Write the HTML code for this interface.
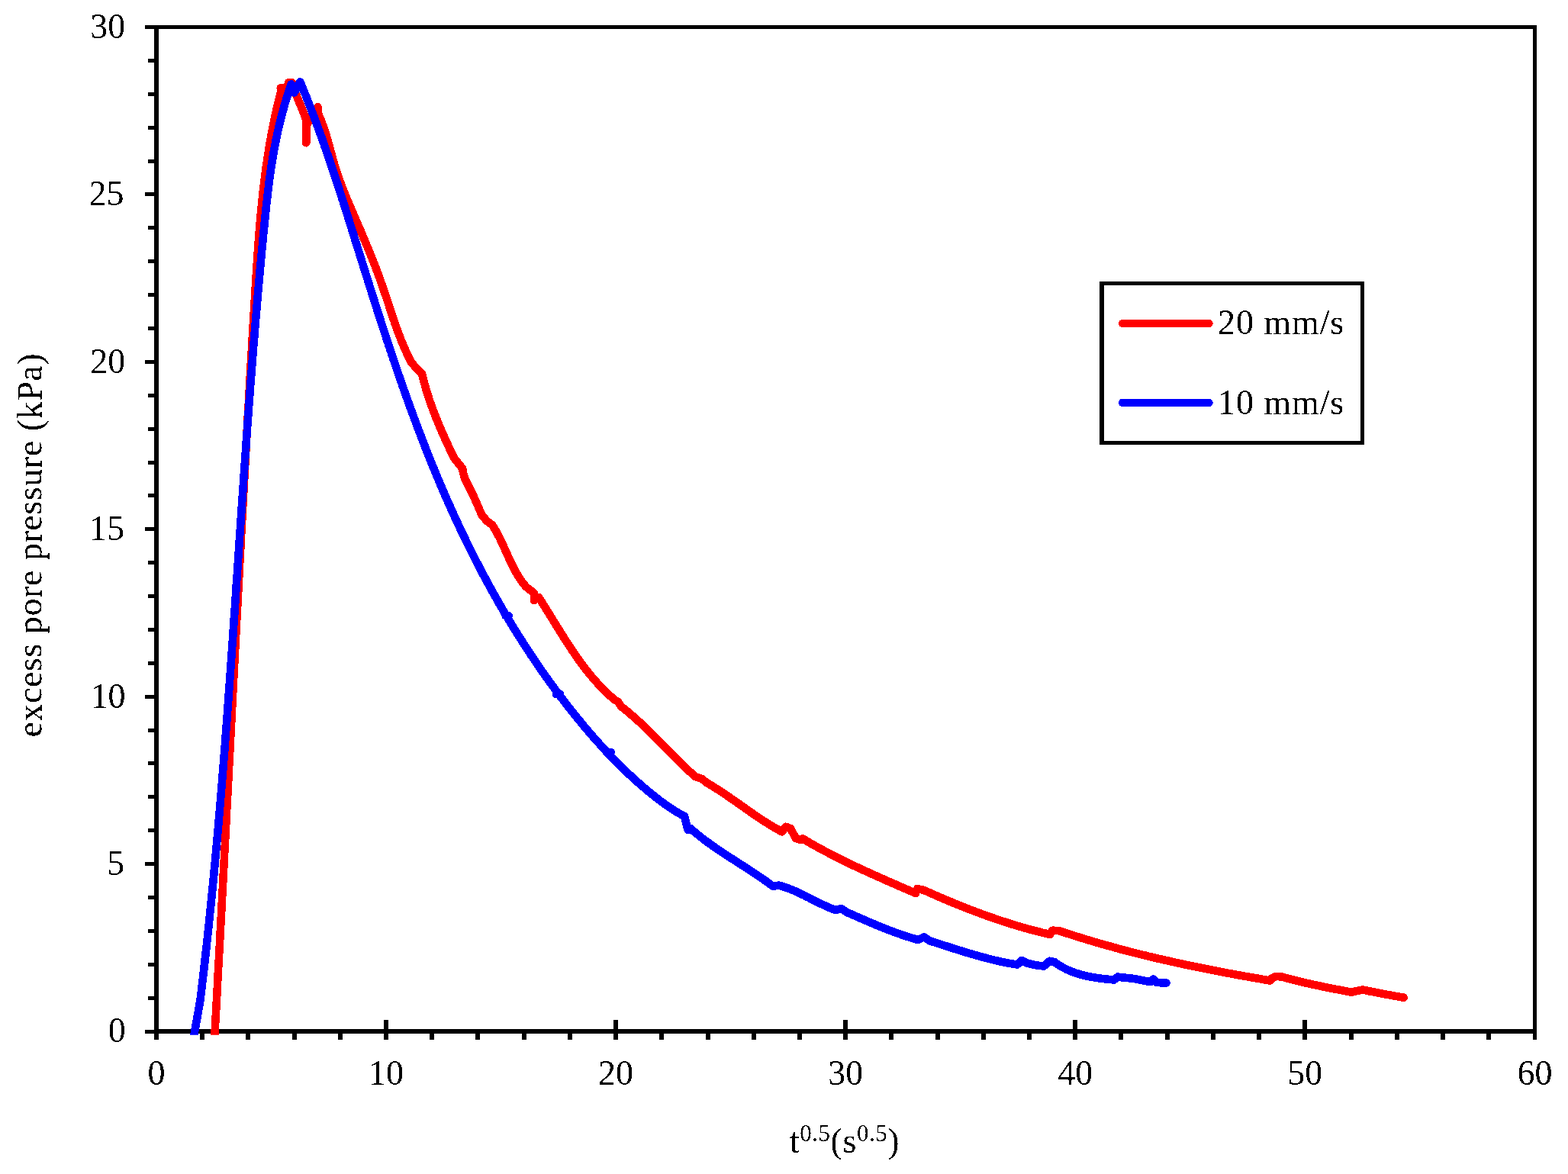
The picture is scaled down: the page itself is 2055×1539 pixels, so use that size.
<!DOCTYPE html>
<html><head><meta charset="utf-8"><style>html,body{margin:0;padding:0;background:#fff;}svg{display:block;}</style></head>
<body>
<svg width="2055" height="1539" viewBox="0 0 2055 1539">
<rect width="100%" height="100%" fill="#fff"/>
<defs><filter id="k" x="-5%" y="-5%" width="110%" height="110%"><feComponentTransfer><feFuncA type="discrete" tableValues="0 1"/></feComponentTransfer></filter><clipPath id="c"><rect x="0" y="0" width="2055" height="1356.7"/></clipPath></defs>
<g fill="#000" shape-rendering="crispEdges">
<rect x="202" y="33" width="1812" height="5"/>
<rect x="202" y="1349" width="1812" height="6"/>
<rect x="202" y="33" width="6" height="1330"/>
<rect x="2009" y="33" width="5" height="1330"/>
<rect x="190" y="1350" width="12" height="5"/>
<rect x="194" y="1306" width="8" height="5"/>
<rect x="194" y="1262" width="8" height="5"/>
<rect x="194" y="1218" width="8" height="5"/>
<rect x="194" y="1174" width="8" height="5"/>
<rect x="190" y="1130" width="12" height="5"/>
<rect x="194" y="1086" width="8" height="5"/>
<rect x="194" y="1042" width="8" height="5"/>
<rect x="194" y="998" width="8" height="5"/>
<rect x="194" y="955" width="8" height="5"/>
<rect x="190" y="911" width="12" height="5"/>
<rect x="194" y="867" width="8" height="5"/>
<rect x="194" y="823" width="8" height="5"/>
<rect x="194" y="779" width="8" height="5"/>
<rect x="194" y="735" width="8" height="5"/>
<rect x="190" y="691" width="12" height="5"/>
<rect x="194" y="647" width="8" height="5"/>
<rect x="194" y="604" width="8" height="5"/>
<rect x="194" y="560" width="8" height="5"/>
<rect x="194" y="516" width="8" height="5"/>
<rect x="190" y="472" width="12" height="5"/>
<rect x="194" y="428" width="8" height="5"/>
<rect x="194" y="384" width="8" height="5"/>
<rect x="194" y="340" width="8" height="5"/>
<rect x="194" y="296" width="8" height="5"/>
<rect x="190" y="252" width="12" height="5"/>
<rect x="194" y="209" width="8" height="5"/>
<rect x="194" y="165" width="8" height="5"/>
<rect x="194" y="121" width="8" height="5"/>
<rect x="194" y="77" width="8" height="5"/>
<rect x="190" y="33" width="12" height="5"/>
<rect x="262" y="1355" width="6" height="8"/>
<rect x="322" y="1355" width="6" height="8"/>
<rect x="383" y="1355" width="6" height="8"/>
<rect x="443" y="1355" width="6" height="8"/>
<rect x="503" y="1337" width="6" height="26"/>
<rect x="563" y="1355" width="6" height="8"/>
<rect x="623" y="1355" width="6" height="8"/>
<rect x="684" y="1355" width="6" height="8"/>
<rect x="744" y="1355" width="6" height="8"/>
<rect x="804" y="1337" width="6" height="26"/>
<rect x="864" y="1355" width="6" height="8"/>
<rect x="925" y="1355" width="6" height="8"/>
<rect x="985" y="1355" width="6" height="8"/>
<rect x="1045" y="1355" width="6" height="8"/>
<rect x="1105" y="1337" width="6" height="26"/>
<rect x="1165" y="1355" width="6" height="8"/>
<rect x="1226" y="1355" width="6" height="8"/>
<rect x="1286" y="1355" width="6" height="8"/>
<rect x="1346" y="1355" width="6" height="8"/>
<rect x="1406" y="1337" width="6" height="26"/>
<rect x="1466" y="1355" width="6" height="8"/>
<rect x="1527" y="1355" width="6" height="8"/>
<rect x="1587" y="1355" width="6" height="8"/>
<rect x="1647" y="1355" width="6" height="8"/>
<rect x="1707" y="1337" width="6" height="26"/>
<rect x="1768" y="1355" width="6" height="8"/>
<rect x="1828" y="1355" width="6" height="8"/>
<rect x="1888" y="1355" width="6" height="8"/>
<rect x="1948" y="1355" width="6" height="8"/>
</g>
<g clip-path="url(#c)" fill="none" stroke-width="10.6" stroke-linejoin="round" stroke-linecap="round" shape-rendering="crispEdges">
<polyline stroke="#f00" points="280.6,1370.0 280.8,1367.0 280.9,1364.0 281.1,1361.0 281.3,1358.1 281.4,1355.1 281.6,1352.1 281.8,1349.1 281.9,1346.1 282.1,1343.1 282.3,1340.1 282.4,1337.2 282.6,1334.2 282.8,1331.2 282.9,1328.2 283.1,1325.2 283.3,1322.2 283.4,1319.2 283.6,1316.2 283.8,1313.2 283.9,1310.2 284.1,1307.3 284.3,1304.3 284.4,1301.3 284.6,1298.3 284.8,1295.3 284.9,1292.3 285.1,1289.3 285.2,1286.3 285.4,1283.3 285.6,1280.3 285.7,1277.3 285.9,1274.3 286.1,1271.4 286.2,1268.4 286.4,1265.4 286.6,1262.4 286.7,1259.4 286.9,1256.4 287.0,1253.4 287.2,1250.4 287.4,1247.4 287.5,1244.4 287.7,1241.4 287.9,1238.4 288.0,1235.4 288.2,1232.4 288.3,1229.4 288.5,1226.4 288.7,1223.4 288.8,1220.4 289.0,1217.4 289.1,1214.4 289.3,1211.4 289.5,1208.4 289.6,1205.4 289.8,1202.4 289.9,1199.4 290.1,1196.4 290.3,1193.4 290.4,1190.4 290.6,1187.4 290.7,1184.4 290.9,1181.4 291.1,1178.4 291.2,1175.4 291.4,1172.4 291.5,1169.4 291.7,1166.4 291.9,1163.4 292.0,1160.4 292.2,1157.4 292.3,1154.4 292.5,1151.4 292.7,1148.4 292.8,1145.4 293.0,1142.4 293.1,1139.4 293.3,1136.4 293.5,1133.4 293.6,1130.4 293.8,1127.4 293.9,1124.4 294.1,1121.4 294.2,1118.4 294.4,1115.4 294.6,1112.4 294.7,1109.4 294.9,1106.4 295.0,1103.4 295.2,1100.4 295.4,1097.4 295.5,1094.4 295.7,1091.4 295.8,1088.4 296.0,1085.4 296.1,1082.4 296.3,1079.4 296.5,1076.4 296.6,1073.3 296.8,1070.3 296.9,1067.3 297.1,1064.3 297.2,1061.3 297.4,1058.3 297.6,1055.3 297.7,1052.3 297.9,1049.3 298.0,1046.3 298.2,1043.3 298.3,1040.3 298.5,1037.3 298.7,1034.3 298.8,1031.3 299.0,1028.3 299.1,1025.2 299.3,1022.2 299.4,1019.2 299.6,1016.2 299.8,1013.2 299.9,1010.2 300.1,1007.2 300.2,1004.2 300.4,1001.2 300.5,998.2 300.7,995.2 300.9,992.2 301.0,989.2 301.2,986.1 301.3,983.1 301.5,980.1 301.6,977.1 301.8,974.1 302.0,971.1 302.1,968.1 302.3,965.1 302.4,962.1 302.6,959.1 302.7,956.1 302.9,953.1 303.0,950.0 303.2,947.0 303.4,944.0 303.5,941.0 303.7,938.0 303.8,935.0 304.0,932.0 304.1,929.0 304.3,926.0 304.5,923.0 304.6,920.0 304.8,916.9 304.9,913.9 305.1,910.9 305.2,907.9 305.4,904.9 305.6,901.9 305.7,898.9 305.9,895.9 306.0,892.9 306.2,889.9 306.3,886.8 306.5,883.8 306.7,880.8 306.8,877.8 307.0,874.8 307.1,871.8 307.3,868.8 307.5,865.8 307.6,862.8 307.8,859.8 307.9,856.8 308.1,853.7 308.2,850.7 308.4,847.7 308.6,844.7 308.7,841.7 308.9,838.7 309.0,835.7 309.2,832.7 309.3,829.7 309.5,826.7 309.7,823.6 309.8,820.6 310.0,817.6 310.1,814.6 310.3,811.6 310.5,808.6 310.6,805.6 310.8,802.6 310.9,799.6 311.1,796.6 311.3,793.6 311.4,790.5 311.6,787.5 311.7,784.5 311.9,781.5 312.1,778.5 312.2,775.5 312.4,772.5 312.5,769.5 312.7,766.5 312.9,763.5 313.0,760.5 313.2,757.4 313.3,754.4 313.5,751.4 313.7,748.4 313.8,745.4 314.0,742.4 314.1,739.4 314.3,736.4 314.5,733.4 314.6,730.4 314.8,727.4 314.9,724.4 315.1,721.4 315.3,718.3 315.4,715.3 315.6,712.3 315.8,709.3 315.9,706.3 316.1,703.3 316.2,700.3 316.4,697.3 316.6,694.3 316.7,691.3 316.9,688.3 317.1,685.3 317.2,682.3 317.4,679.3 317.5,676.3 317.7,673.2 317.9,670.2 318.0,667.2 318.2,664.2 318.4,661.2 318.5,658.2 318.7,655.2 318.9,652.2 319.0,649.2 319.2,646.2 319.4,643.2 319.5,640.2 319.7,637.2 319.9,634.2 320.0,631.2 320.2,628.2 320.3,625.2 320.5,622.2 320.7,619.2 320.8,616.2 321.0,613.2 321.2,610.1 321.3,607.1 321.5,604.1 321.7,601.1 321.9,598.1 322.0,595.1 322.2,592.1 322.4,589.1 322.5,586.1 322.7,583.1 322.9,580.1 323.0,577.1 323.2,574.1 323.4,571.1 323.5,568.1 323.7,565.1 323.9,562.1 324.0,559.1 324.2,556.1 324.4,553.1 324.6,550.1 324.7,547.1 324.9,544.1 325.1,541.1 325.2,538.1 325.4,535.1 325.6,532.1 325.8,529.1 325.9,526.1 326.1,523.1 326.3,520.1 326.4,517.1 326.6,514.1 326.8,511.1 327.0,508.1 327.1,505.1 327.3,502.1 327.5,499.2 327.7,496.2 327.8,493.2 328.0,490.2 328.2,487.2 328.4,484.2 328.5,481.2 328.7,478.2 328.9,475.2 329.1,472.2 329.2,469.2 329.4,466.2 329.6,463.2 329.8,460.2 329.9,457.2 330.1,454.2 330.3,451.2 330.5,448.3 330.6,445.3 330.8,442.3 331.0,439.3 331.2,436.3 331.4,433.3 331.5,430.3 331.7,427.3 331.9,424.3 332.1,421.3 332.3,418.3 332.4,415.4 332.6,412.4 332.8,409.4 333.0,406.4 333.2,403.4 333.3,400.4 333.5,397.4 333.7,394.4 333.9,391.4 334.1,388.5 334.3,385.5 334.4,382.5 334.6,379.5 334.8,376.5 335.0,373.5 335.2,370.5 335.4,367.6 335.5,364.6 335.7,361.6 335.9,358.6 336.1,355.6 336.3,352.6 336.5,349.7 336.7,346.7 336.9,343.7 337.1,340.7 337.3,337.7 337.5,334.7 337.7,331.8 337.9,328.8 338.1,325.8 338.3,322.8 338.5,319.8 338.8,316.9 339.0,313.9 339.2,310.9 339.4,307.9 339.7,304.9 339.9,302.0 340.2,299.0 340.4,296.0 340.7,293.0 340.9,290.1 341.2,287.1 341.4,284.1 341.7,281.1 342.0,278.1 342.3,275.2 342.6,272.2 342.9,269.2 343.1,266.2 343.5,263.3 343.8,260.3 344.1,257.3 344.4,254.4 344.7,251.4 345.1,248.4 345.4,245.4 345.8,242.5 346.1,239.5 346.5,236.5 346.9,233.6 347.2,230.6 347.6,227.6 348.0,224.7 348.4,221.7 348.8,218.7 349.3,215.7 349.7,212.8 350.1,209.8 350.6,206.8 351.0,203.9 351.5,200.9 352.0,197.9 352.4,195.0 352.9,192.0 353.4,189.1 353.9,186.1 354.5,183.1 355.0,180.2 355.5,177.2 356.1,174.2 356.6,171.3 357.2,168.3 357.8,165.4 358.4,162.4 359.0,159.4 359.6,156.5 360.2,153.5 360.9,150.6 361.5,147.6 362.2,144.6 362.9,141.7 363.6,138.7 364.3,135.8 365.0,132.8 365.7,129.9 366.5,126.9 367.2,123.9 368.0,121.0 367.8,115.4 372.5,115.4 375.3,117.5 378.1,108.4 382.7,108.4 383.6,111.4 384.6,114.4 385.6,117.3 386.7,120.3 387.8,123.2 389.0,126.1 390.1,129.0 391.3,131.8 392.5,134.7 393.7,137.6 394.9,140.5 396.1,143.4 397.2,146.3 398.3,149.2 399.4,152.1 400.4,155.0 401.3,158.0 401.3,187.3 401.3,165.0 416.5,140.0 417.0,149.0 418.3,151.9 419.5,154.7 420.7,157.6 421.8,160.4 422.8,163.3 423.9,166.1 424.8,169.0 425.8,171.8 426.7,174.7 427.6,177.5 428.4,180.3 429.3,183.2 430.1,186.0 430.9,188.8 431.7,191.7 432.5,194.5 433.2,197.3 434.0,200.2 434.8,203.0 435.5,205.8 436.3,208.6 437.1,211.5 437.9,214.3 438.7,217.1 439.6,219.9 440.5,222.7 441.4,225.6 442.3,228.4 443.2,231.2 444.2,234.0 445.2,236.8 446.3,239.6 447.3,242.4 448.4,245.2 449.5,248.0 450.6,250.9 451.7,253.7 452.9,256.5 454.0,259.3 455.2,262.1 456.4,264.9 457.6,267.7 458.8,270.5 460.0,273.3 461.2,276.1 462.4,278.9 463.6,281.7 464.8,284.5 466.0,287.3 467.2,290.1 468.4,292.9 469.6,295.7 470.9,298.4 472.1,301.2 473.2,304.0 474.4,306.8 475.6,309.6 476.8,312.4 478.0,315.2 479.1,318.0 480.3,320.8 481.5,323.6 482.6,326.4 483.8,329.2 484.9,332.0 486.0,334.8 487.1,337.6 488.3,340.3 489.4,343.1 490.4,345.9 491.5,348.7 492.6,351.5 493.7,354.3 494.7,357.1 495.8,359.9 496.8,362.7 497.8,365.5 498.8,368.3 499.8,371.1 500.8,373.9 501.8,376.7 502.7,379.5 503.7,382.3 504.6,385.1 505.6,387.8 506.5,390.6 507.4,393.4 508.4,396.2 509.3,399.0 510.2,401.8 511.1,404.6 512.0,407.4 513.0,410.3 513.9,413.1 514.8,415.9 515.8,418.7 516.8,421.5 517.7,424.3 518.7,427.1 519.7,429.9 520.7,432.7 521.8,435.5 522.8,438.3 523.9,441.1 525.0,444.0 526.1,446.8 527.3,449.6 528.5,452.4 529.7,455.2 530.9,458.0 532.2,460.9 533.5,463.7 534.8,466.5 536.2,469.3 537.6,472.2 539.0,475.0 546.0,483.0 553.0,490.0 553.7,492.9 554.4,495.9 555.2,498.8 556.0,501.7 556.8,504.7 557.6,507.6 558.4,510.5 559.3,513.4 560.2,516.2 561.1,519.1 562.1,522.0 563.0,524.9 564.0,527.7 565.0,530.6 566.1,533.4 567.1,536.2 568.2,539.1 569.2,541.9 570.3,544.7 571.4,547.5 572.6,550.4 573.7,553.2 574.9,555.9 576.0,558.7 577.2,561.5 578.4,564.3 579.6,567.1 580.9,569.8 582.1,572.6 583.3,575.4 584.6,578.1 585.9,580.9 587.1,583.6 588.4,586.4 589.7,589.1 591.0,591.8 592.3,594.6 593.6,597.3 594.9,600.0 602.0,609.0 606.0,614.0 606.3,615.3 606.5,616.7 606.8,618.0 607.0,619.3 607.3,620.6 607.6,622.0 608.0,623.4 608.5,625.0 609.5,627.7 610.8,630.6 612.3,633.7 613.9,636.9 615.6,640.2 617.3,643.5 618.9,646.8 620.4,650.0 621.8,653.1 623.2,656.2 624.6,659.4 626.0,662.5 627.3,665.6 628.7,668.7 630.0,671.9 631.4,675.0 638.0,683.0 645.0,688.0 646.6,690.5 648.2,693.1 649.7,695.6 651.2,698.3 652.6,700.9 654.0,703.6 655.3,706.2 656.6,708.9 657.9,711.7 659.2,714.4 660.4,717.1 661.7,719.9 662.9,722.6 664.1,725.4 665.4,728.1 666.6,730.9 667.9,733.6 669.1,736.3 670.4,739.0 671.7,741.7 673.1,744.4 674.5,747.1 676.0,749.7 677.4,752.3 679.0,754.9 680.6,757.4 682.3,759.9 684.0,762.4 685.8,764.8 687.7,767.2 689.7,769.5 700.0,777.5 700.0,787.0 706.0,783.0 707.6,785.5 709.3,788.1 710.9,790.6 712.5,793.2 714.1,795.7 715.7,798.3 717.3,800.9 718.9,803.4 720.5,806.0 722.1,808.6 723.7,811.2 725.3,813.8 726.9,816.4 728.5,819.0 730.1,821.6 731.7,824.1 733.3,826.7 734.9,829.3 736.6,831.9 738.2,834.5 739.8,837.1 741.5,839.6 743.1,842.2 744.8,844.7 746.4,847.3 748.1,849.8 749.8,852.4 751.5,854.9 753.2,857.4 754.9,859.9 756.7,862.4 758.4,864.9 760.2,867.3 762.0,869.8 763.8,872.2 765.7,874.7 767.5,877.1 769.4,879.5 771.3,881.8 773.2,884.2 775.1,886.5 777.1,888.9 779.1,891.2 781.1,893.4 783.1,895.7 785.2,897.9 787.2,900.2 789.4,902.3 791.5,904.5 793.7,906.7 795.9,908.8 798.1,910.9 800.4,912.9 802.7,915.0 805.0,917.0 810.0,920.0 814.0,926.0 816.4,927.9 818.8,929.8 821.2,931.7 823.5,933.6 825.8,935.6 828.1,937.6 830.4,939.6 832.7,941.6 834.9,943.7 837.2,945.7 839.4,947.8 841.6,949.9 843.8,952.0 846.0,954.1 848.2,956.2 850.4,958.3 852.5,960.4 854.7,962.6 856.8,964.7 859.0,966.9 861.1,969.1 863.3,971.2 865.4,973.4 867.5,975.6 869.7,977.7 871.8,979.9 873.9,982.1 876.1,984.3 878.2,986.4 880.3,988.6 882.5,990.8 884.6,992.9 886.8,995.1 889.0,997.2 891.1,999.3 893.3,1001.5 895.5,1003.6 897.7,1005.7 899.9,1007.8 902.2,1009.8 904.4,1011.9 906.6,1014.0 908.9,1016.0 911.2,1018.0 920.0,1021.0 926.0,1026.0 928.6,1027.5 931.2,1029.0 933.8,1030.6 936.4,1032.2 938.9,1033.8 941.5,1035.4 944.0,1037.1 946.5,1038.7 949.0,1040.4 951.5,1042.1 954.0,1043.8 956.5,1045.5 959.0,1047.2 961.5,1048.9 964.0,1050.7 966.4,1052.4 968.9,1054.1 971.4,1055.9 973.8,1057.6 976.3,1059.4 978.8,1061.1 981.3,1062.8 983.7,1064.6 986.2,1066.3 988.7,1068.0 991.2,1069.7 993.7,1071.4 996.2,1073.1 998.8,1074.8 1001.3,1076.4 1003.8,1078.0 1006.4,1079.7 1009.0,1081.2 1011.5,1082.8 1014.1,1084.4 1016.8,1085.9 1019.4,1087.4 1022.0,1088.9 1024.7,1090.3 1029.9,1083.8 1036.0,1086.0 1043.0,1099.0 1049.4,1101.0 1052.0,1099.4 1054.6,1100.9 1057.2,1102.5 1059.8,1104.0 1062.4,1105.5 1065.0,1107.0 1067.6,1108.4 1070.2,1109.9 1072.8,1111.3 1075.5,1112.8 1078.1,1114.2 1080.8,1115.6 1083.4,1117.0 1086.1,1118.4 1088.7,1119.8 1091.4,1121.2 1094.1,1122.6 1096.7,1123.9 1099.4,1125.3 1102.1,1126.6 1104.8,1127.9 1107.5,1129.3 1110.2,1130.6 1112.9,1131.9 1115.6,1133.2 1118.3,1134.5 1121.0,1135.8 1123.7,1137.0 1126.4,1138.3 1129.2,1139.6 1131.9,1140.8 1134.6,1142.1 1137.3,1143.3 1140.1,1144.6 1142.8,1145.8 1145.6,1147.0 1148.3,1148.3 1151.0,1149.5 1153.8,1150.7 1156.5,1151.9 1159.3,1153.2 1162.0,1154.4 1164.8,1155.6 1167.5,1156.8 1170.3,1158.0 1173.0,1159.2 1175.8,1160.4 1178.5,1161.6 1181.3,1162.8 1184.0,1164.0 1186.8,1165.2 1189.5,1166.4 1192.3,1167.6 1195.0,1168.8 1200.0,1171.0 1202.2,1165.0 1211.0,1167.0 1213.7,1168.2 1216.5,1169.5 1219.2,1170.7 1222.0,1171.9 1224.8,1173.1 1227.5,1174.4 1230.3,1175.6 1233.1,1176.8 1235.8,1177.9 1238.6,1179.1 1241.4,1180.3 1244.2,1181.5 1247.0,1182.6 1249.8,1183.8 1252.6,1184.9 1255.4,1186.1 1258.2,1187.2 1261.0,1188.3 1263.8,1189.4 1266.6,1190.6 1269.4,1191.6 1272.2,1192.7 1275.1,1193.8 1277.9,1194.9 1280.7,1195.9 1283.6,1197.0 1286.4,1198.0 1289.2,1199.1 1292.1,1200.1 1294.9,1201.1 1297.8,1202.1 1300.7,1203.1 1303.5,1204.1 1306.4,1205.1 1309.2,1206.0 1312.1,1207.0 1315.0,1207.9 1317.9,1208.9 1320.7,1209.8 1323.6,1210.7 1326.5,1211.6 1329.4,1212.5 1332.3,1213.4 1335.2,1214.2 1338.1,1215.1 1341.0,1215.9 1343.9,1216.7 1346.8,1217.6 1349.7,1218.4 1352.6,1219.1 1355.5,1219.9 1358.4,1220.7 1361.4,1221.4 1364.3,1222.2 1367.2,1222.9 1370.1,1223.6 1373.1,1224.3 1376.0,1225.0 1379.0,1219.7 1387.7,1220.0 1390.6,1221.0 1393.4,1221.9 1396.3,1222.9 1399.2,1223.8 1402.1,1224.8 1404.9,1225.7 1407.8,1226.6 1410.7,1227.5 1413.6,1228.4 1416.5,1229.3 1419.4,1230.2 1422.3,1231.1 1425.2,1232.0 1428.1,1232.9 1431.0,1233.7 1433.9,1234.6 1436.8,1235.5 1439.7,1236.3 1442.6,1237.1 1445.5,1238.0 1448.4,1238.8 1451.3,1239.6 1454.3,1240.4 1457.2,1241.2 1460.1,1242.0 1463.0,1242.8 1465.9,1243.6 1468.9,1244.4 1471.8,1245.2 1474.7,1246.0 1477.7,1246.7 1480.6,1247.5 1483.5,1248.2 1486.5,1249.0 1489.4,1249.7 1492.3,1250.5 1495.3,1251.2 1498.2,1251.9 1501.2,1252.6 1504.1,1253.4 1507.1,1254.1 1510.0,1254.8 1513.0,1255.5 1515.9,1256.2 1518.9,1256.8 1521.8,1257.5 1524.8,1258.2 1527.7,1258.9 1530.7,1259.5 1533.7,1260.2 1536.6,1260.9 1539.6,1261.5 1542.5,1262.2 1545.5,1262.8 1548.5,1263.5 1551.4,1264.1 1554.4,1264.7 1557.4,1265.4 1560.3,1266.0 1563.3,1266.6 1566.3,1267.2 1569.3,1267.8 1572.2,1268.4 1575.2,1269.0 1578.2,1269.6 1581.2,1270.2 1584.1,1270.8 1587.1,1271.4 1590.1,1272.0 1593.1,1272.6 1596.0,1273.1 1599.0,1273.7 1602.0,1274.3 1605.0,1274.8 1607.9,1275.4 1610.9,1276.0 1613.9,1276.5 1616.9,1277.1 1619.9,1277.6 1622.8,1278.2 1625.8,1278.7 1628.8,1279.2 1631.8,1279.8 1634.8,1280.3 1637.8,1280.8 1640.7,1281.4 1643.7,1281.9 1646.7,1282.4 1649.7,1282.9 1652.7,1283.5 1655.7,1284.0 1658.6,1284.5 1661.6,1285.0 1664.6,1285.5 1666.0,1283.0 1672.0,1279.9 1680.0,1280.5 1682.9,1281.3 1685.8,1282.1 1688.7,1282.9 1691.6,1283.6 1694.5,1284.4 1697.5,1285.2 1700.6,1286.0 1703.9,1286.8 1708.2,1287.8 1712.9,1288.9 1717.7,1289.9 1722.6,1291.0 1727.6,1292.0 1732.5,1293.1 1737.2,1294.1 1741.8,1295.0 1745.6,1295.8 1749.4,1296.5 1753.0,1297.2 1756.6,1297.9 1760.2,1298.6 1763.8,1299.3 1767.4,1300.0 1771.0,1300.7 1778.0,1299.0 1786.1,1297.6 1789.3,1298.2 1792.4,1298.9 1795.5,1299.5 1798.7,1300.1 1801.8,1300.7 1805.0,1301.4 1808.2,1302.0 1811.4,1302.6 1814.9,1303.2 1818.4,1303.9 1821.9,1304.5 1825.4,1305.2 1829.0,1305.8 1832.6,1306.4 1836.2,1307.1 1839.7,1307.7"/>
<polyline stroke="#00f" points="252.2,1370.0 252.5,1368.3 252.7,1366.7 253.0,1365.0 253.3,1363.4 253.5,1361.7 253.8,1360.0 254.2,1358.1 254.5,1356.0 255.2,1352.1 256.0,1347.6 256.8,1342.7 257.8,1337.6 258.7,1332.6 259.5,1327.8 260.3,1323.5 260.9,1320.0 261.2,1318.5 261.4,1317.1 261.6,1315.8 261.8,1314.6 262.0,1313.5 262.2,1312.4 262.4,1311.2 262.6,1310.0 263.0,1307.0 263.3,1304.1 263.7,1301.1 264.0,1298.2 264.4,1295.2 264.7,1292.3 265.1,1289.3 265.4,1286.3 265.8,1283.4 266.1,1280.4 266.5,1277.5 266.8,1274.5 267.2,1271.5 267.5,1268.6 267.8,1265.6 268.2,1262.6 268.5,1259.7 268.8,1256.7 269.2,1253.7 269.5,1250.8 269.8,1247.8 270.2,1244.8 270.5,1241.9 270.8,1238.9 271.1,1235.9 271.5,1233.0 271.8,1230.0 272.1,1227.0 272.4,1224.1 272.7,1221.1 273.1,1218.1 273.4,1215.1 273.7,1212.2 274.0,1209.2 274.3,1206.2 274.6,1203.2 274.9,1200.3 275.2,1197.3 275.5,1194.3 275.8,1191.3 276.1,1188.4 276.4,1185.4 276.7,1182.4 277.0,1179.4 277.3,1176.4 277.6,1173.5 277.9,1170.5 278.2,1167.5 278.5,1164.5 278.8,1161.5 279.1,1158.6 279.4,1155.6 279.7,1152.6 280.0,1149.6 280.3,1146.6 280.5,1143.6 280.8,1140.7 281.1,1137.7 281.4,1134.7 281.7,1131.7 281.9,1128.7 282.2,1125.7 282.5,1122.7 282.8,1119.7 283.0,1116.8 283.3,1113.8 283.6,1110.8 283.9,1107.8 284.1,1104.8 284.4,1101.8 284.7,1098.8 284.9,1095.8 285.2,1092.8 285.5,1089.8 285.7,1086.9 286.0,1083.9 286.3,1080.9 286.5,1077.9 286.8,1074.9 287.0,1071.9 287.3,1068.9 287.6,1065.9 287.8,1062.9 288.1,1059.9 288.3,1056.9 288.6,1053.9 288.8,1050.9 289.1,1047.9 289.3,1044.9 289.6,1041.9 289.8,1038.9 290.1,1035.9 290.3,1032.9 290.6,1029.9 290.8,1026.9 291.1,1023.9 291.3,1020.9 291.5,1017.9 291.8,1014.9 292.0,1011.9 292.3,1008.9 292.5,1005.9 292.7,1002.9 293.0,999.9 293.2,996.9 293.5,993.9 293.7,990.9 293.9,987.9 294.2,984.9 294.4,981.9 294.6,978.9 294.9,975.9 295.1,972.9 295.3,969.9 295.6,966.9 295.8,963.9 296.0,960.9 296.2,957.9 296.5,954.9 296.7,951.9 296.9,948.9 297.2,945.9 297.4,942.9 297.6,939.9 297.8,936.9 298.1,933.9 298.3,930.8 298.5,927.8 298.7,924.8 298.9,921.8 299.2,918.8 299.4,915.8 299.6,912.8 299.8,909.8 300.0,906.8 300.3,903.8 300.5,900.8 300.7,897.8 300.9,894.8 301.1,891.8 301.4,888.7 301.6,885.7 301.8,882.7 302.0,879.7 302.2,876.7 302.4,873.7 302.6,870.7 302.9,867.7 303.1,864.7 303.3,861.7 303.5,858.7 303.7,855.6 303.9,852.6 304.1,849.6 304.3,846.6 304.6,843.6 304.8,840.6 305.0,837.6 305.2,834.6 305.4,831.6 305.6,828.6 305.8,825.5 306.0,822.5 306.2,819.5 306.4,816.5 306.6,813.5 306.8,810.5 307.1,807.5 307.3,804.5 307.5,801.5 307.7,798.5 307.9,795.4 308.1,792.4 308.3,789.4 308.5,786.4 308.7,783.4 308.9,780.4 309.1,777.4 309.3,774.4 309.5,771.4 309.7,768.4 309.9,765.3 310.1,762.3 310.4,759.3 310.6,756.3 310.8,753.3 311.0,750.3 311.2,747.3 311.4,744.3 311.6,741.3 311.8,738.3 312.0,735.2 312.2,732.2 312.4,729.2 312.6,726.2 312.8,723.2 313.0,720.2 313.2,717.2 313.4,714.2 313.6,711.2 313.8,708.2 314.0,705.2 314.2,702.1 314.4,699.1 314.7,696.1 314.9,693.1 315.1,690.1 315.3,687.1 315.5,684.1 315.7,681.1 315.9,678.1 316.1,675.1 316.3,672.1 316.5,669.1 316.7,666.0 316.9,663.0 317.1,660.0 317.3,657.0 317.5,654.0 317.7,651.0 318.0,648.0 318.2,645.0 318.4,642.0 318.6,639.0 318.8,636.0 319.0,633.0 319.2,630.0 319.4,627.0 319.6,624.0 319.8,621.0 320.0,618.0 320.3,615.0 320.5,611.9 320.7,608.9 320.9,605.9 321.1,602.9 321.3,599.9 321.5,596.9 321.7,593.9 322.0,590.9 322.2,587.9 322.4,584.9 322.6,581.9 322.8,578.9 323.0,575.9 323.2,572.9 323.5,569.9 323.7,566.9 323.9,563.9 324.1,560.9 324.3,557.9 324.5,554.9 324.8,551.9 325.0,548.9 325.2,545.9 325.4,542.9 325.6,539.9 325.9,536.9 326.1,533.9 326.3,530.9 326.5,527.9 326.8,524.9 327.0,521.9 327.2,519.0 327.4,516.0 327.7,513.0 327.9,510.0 328.1,507.0 328.3,504.0 328.6,501.0 328.8,498.0 329.0,495.0 329.3,492.0 329.5,489.0 329.7,486.0 330.0,483.0 330.2,480.0 330.4,477.1 330.7,474.1 330.9,471.1 331.1,468.1 331.4,465.1 331.6,462.1 331.9,459.1 332.1,456.1 332.3,453.1 332.6,450.2 332.8,447.2 333.1,444.2 333.3,441.2 333.5,438.2 333.8,435.2 334.0,432.2 334.3,429.3 334.5,426.3 334.8,423.3 335.0,420.3 335.3,417.3 335.5,414.4 335.8,411.4 336.0,408.4 336.3,405.4 336.5,402.4 336.8,399.4 337.1,396.5 337.3,393.5 337.6,390.5 337.8,387.5 338.1,384.6 338.3,381.6 338.6,378.6 338.9,375.6 339.1,372.7 339.4,369.7 339.7,366.7 339.9,363.7 340.2,360.8 340.5,357.8 340.7,354.8 341.0,351.8 341.3,348.9 341.6,345.9 341.8,342.9 342.1,340.0 342.4,337.0 342.7,334.0 342.9,331.1 343.2,328.1 343.5,325.1 343.8,322.2 344.1,319.2 344.4,316.2 344.6,313.3 344.9,310.3 345.2,307.3 345.5,304.4 345.8,301.4 346.1,298.5 346.4,295.5 346.7,292.5 347.0,289.6 347.3,286.6 347.6,283.7 347.9,280.7 348.2,277.8 348.5,274.8 348.8,271.8 349.1,268.9 349.5,265.9 349.8,263.0 350.1,260.0 350.5,257.1 350.8,254.1 351.2,251.2 351.5,248.2 351.9,245.3 352.3,242.3 352.6,239.4 353.0,236.4 353.4,233.5 353.8,230.5 354.2,227.6 354.7,224.7 355.1,221.7 355.5,218.8 356.0,215.8 356.5,212.9 356.9,209.9 357.4,207.0 357.9,204.1 358.4,201.1 358.9,198.2 359.5,195.2 360.0,192.3 360.6,189.4 361.2,186.4 361.7,183.5 362.3,180.6 363.0,177.6 363.6,174.7 364.2,171.8 364.9,168.8 365.6,165.9 366.3,163.0 367.0,160.1 367.7,157.1 368.4,154.2 369.2,151.3 370.0,148.3 370.8,145.4 371.6,142.5 372.4,139.6 373.2,136.7 374.1,133.7 375.0,130.8 375.9,127.9 376.8,125.0 377.8,122.1 378.8,119.1 379.7,116.2 380.8,113.3 381.8,110.4 385.5,121.5 393.3,107.3 394.5,110.1 395.6,112.8 396.8,115.6 397.9,118.4 399.0,121.2 400.2,123.9 401.3,126.7 402.4,129.5 403.5,132.3 404.6,135.1 405.7,137.9 406.8,140.7 407.8,143.5 408.9,146.3 410.0,149.0 411.0,151.8 412.1,154.6 413.1,157.4 414.2,160.3 415.2,163.1 416.3,165.9 417.3,168.7 418.3,171.5 419.3,174.3 420.3,177.1 421.4,179.9 422.4,182.7 423.4,185.6 424.4,188.4 425.3,191.2 426.3,194.0 427.3,196.8 428.3,199.7 429.3,202.5 430.2,205.3 431.2,208.1 432.2,211.0 433.1,213.8 434.1,216.6 435.0,219.5 436.0,222.3 436.9,225.1 437.9,228.0 438.8,230.8 439.7,233.7 440.7,236.5 441.6,239.3 442.5,242.2 443.5,245.0 444.4,247.9 445.3,250.7 446.2,253.6 447.1,256.4 448.0,259.3 449.0,262.1 449.9,264.9 450.8,267.8 451.7,270.7 452.6,273.5 453.5,276.4 454.4,279.2 455.3,282.1 456.2,284.9 457.1,287.8 458.0,290.6 458.9,293.5 459.8,296.3 460.7,299.2 461.6,302.1 462.5,304.9 463.4,307.8 464.3,310.6 465.1,313.5 466.0,316.4 466.9,319.2 467.8,322.1 468.7,324.9 469.6,327.8 470.5,330.7 471.4,333.5 472.3,336.4 473.2,339.2 474.1,342.1 475.0,345.0 475.9,347.8 476.8,350.7 477.7,353.6 478.6,356.4 479.5,359.3 480.4,362.2 481.3,365.0 482.2,367.9 483.1,370.7 484.0,373.6 484.9,376.5 485.8,379.3 486.7,382.2 487.6,385.1 488.5,387.9 489.4,390.8 490.3,393.6 491.2,396.5 492.2,399.4 493.1,402.2 494.0,405.1 494.9,408.0 495.8,410.8 496.7,413.7 497.7,416.5 498.6,419.4 499.5,422.3 500.4,425.1 501.4,428.0 502.3,430.8 503.2,433.7 504.2,436.5 505.1,439.4 506.0,442.3 507.0,445.1 507.9,448.0 508.9,450.8 509.8,453.7 510.8,456.5 511.7,459.4 512.7,462.2 513.6,465.1 514.6,467.9 515.5,470.8 516.5,473.6 517.5,476.5 518.4,479.3 519.4,482.2 520.4,485.0 521.3,487.8 522.3,490.7 523.3,493.5 524.3,496.4 525.3,499.2 526.3,502.0 527.2,504.9 528.2,507.7 529.2,510.5 530.2,513.4 531.2,516.2 532.2,519.0 533.2,521.9 534.3,524.7 535.3,527.5 536.3,530.3 537.3,533.2 538.3,536.0 539.4,538.8 540.4,541.6 541.4,544.4 542.5,547.3 543.5,550.1 544.6,552.9 545.6,555.7 546.7,558.5 547.7,561.3 548.8,564.1 549.8,566.9 550.9,569.7 552.0,572.5 553.1,575.3 554.1,578.1 555.2,580.9 556.3,583.7 557.4,586.5 558.5,589.3 559.6,592.1 560.7,594.9 561.8,597.7 562.9,600.5 564.0,603.2 565.2,606.0 566.3,608.8 567.4,611.6 568.6,614.4 569.7,617.1 570.8,619.9 572.0,622.7 573.1,625.4 574.3,628.2 575.5,631.0 576.6,633.7 577.8,636.5 579.0,639.2 580.2,642.0 581.3,644.7 582.5,647.5 583.7,650.2 584.9,653.0 586.1,655.7 587.3,658.4 588.6,661.2 589.8,663.9 591.0,666.6 592.2,669.4 593.5,672.1 594.7,674.8 596.0,677.6 597.2,680.3 598.5,683.0 599.7,685.7 601.0,688.4 602.3,691.1 603.5,693.8 604.8,696.5 606.1,699.2 607.4,701.9 608.7,704.6 610.0,707.3 611.3,710.0 612.6,712.7 613.9,715.4 615.3,718.1 616.6,720.7 617.9,723.4 619.3,726.1 620.6,728.8 622.0,731.4 623.3,734.1 624.7,736.8 626.1,739.4 627.5,742.1 628.8,744.7 630.2,747.4 631.6,750.0 633.0,752.7 634.4,755.3 635.8,757.9 637.2,760.6 638.7,763.2 640.1,765.8 641.5,768.5 643.0,771.1 644.4,773.7 645.9,776.3 647.3,778.9 648.8,781.5 650.3,784.1 651.7,786.7 653.2,789.3 654.7,791.9 656.2,794.5 657.7,797.1 659.2,799.7 660.7,802.3 662.2,804.9 663.8,807.4 665.3,810.0 666.8,812.6 668.4,815.1 669.9,817.7 671.5,820.2 673.0,822.8 674.6,825.3 676.2,827.9 677.8,830.4 679.4,833.0 681.0,835.5 682.6,838.0 684.2,840.6 685.8,843.1 687.4,845.6 689.0,848.1 690.7,850.6 692.3,853.1 694.0,855.6 695.6,858.1 697.3,860.6 699.0,863.1 700.6,865.6 702.3,868.1 704.0,870.6 705.7,873.1 707.4,875.5 709.1,878.0 710.8,880.5 712.6,882.9 714.3,885.4 716.0,887.8 717.8,890.3 719.5,892.7 721.3,895.2 723.1,897.6 724.8,900.0 726.6,902.4 728.4,904.9 730.2,907.3 732.0,909.7 733.8,912.1 735.6,914.5 737.5,916.9 739.3,919.3 741.1,921.7 743.0,924.1 744.8,926.5 746.7,928.8 748.6,931.2 750.4,933.6 752.3,935.9 754.2,938.3 756.1,940.7 758.0,943.0 760.0,945.3 761.9,947.7 763.8,950.0 765.7,952.3 767.7,954.6 769.6,956.9 771.6,959.2 773.6,961.5 775.5,963.8 777.5,966.1 779.5,968.4 781.5,970.6 783.5,972.9 785.6,975.1 787.6,977.4 789.6,979.6 791.6,981.8 793.7,984.0 795.8,986.2 797.8,988.4 799.9,990.6 802.0,992.7 804.1,994.9 806.2,997.0 808.3,999.2 810.4,1001.3 812.5,1003.4 814.6,1005.5 816.8,1007.6 818.9,1009.7 821.1,1011.8 823.2,1013.8 825.4,1015.9 827.6,1017.9 829.8,1019.9 832.0,1021.9 834.2,1023.9 836.4,1025.9 838.6,1027.8 840.8,1029.8 843.1,1031.7 845.3,1033.7 847.6,1035.6 849.8,1037.5 852.1,1039.3 854.4,1041.2 856.7,1043.0 859.0,1044.9 861.3,1046.7 863.6,1048.4 865.9,1050.2 868.3,1051.9 870.6,1053.6 873.0,1055.3 875.3,1056.9 877.7,1058.6 880.1,1060.1 882.5,1061.7 884.9,1063.2 887.3,1064.6 889.7,1066.0 892.1,1067.4 894.6,1068.7 897.0,1070.0 901.6,1088.0 905.0,1086.0 907.2,1088.0 909.5,1090.0 911.8,1091.9 914.1,1093.8 916.5,1095.7 918.8,1097.6 921.2,1099.4 923.5,1101.2 925.9,1103.0 928.4,1104.8 930.8,1106.6 933.2,1108.3 935.7,1110.0 938.1,1111.7 940.6,1113.4 943.1,1115.1 945.6,1116.8 948.1,1118.4 950.6,1120.1 953.1,1121.7 955.6,1123.4 958.2,1125.0 960.7,1126.6 963.2,1128.2 965.7,1129.9 968.3,1131.5 970.8,1133.1 973.3,1134.7 975.9,1136.3 978.4,1138.0 980.9,1139.6 983.4,1141.2 985.9,1142.9 988.4,1144.5 990.9,1146.2 993.4,1147.9 995.9,1149.6 998.4,1151.3 1000.9,1153.0 1003.3,1154.7 1005.8,1156.4 1008.2,1158.2 1010.6,1160.0 1013.0,1161.8 1020.8,1160.6 1023.7,1161.4 1026.6,1162.3 1029.4,1163.2 1032.3,1164.3 1035.1,1165.3 1037.8,1166.4 1040.6,1167.6 1043.4,1168.8 1046.1,1170.0 1048.8,1171.3 1051.5,1172.6 1054.2,1173.9 1056.9,1175.3 1059.6,1176.6 1062.3,1178.0 1064.9,1179.3 1067.6,1180.7 1070.3,1182.0 1073.0,1183.4 1075.7,1184.7 1078.4,1186.0 1081.1,1187.2 1083.9,1188.5 1086.6,1189.7 1089.4,1190.8 1092.2,1191.9 1095.0,1193.0 1102.7,1191.0 1110.0,1196.0 1112.8,1197.2 1115.5,1198.4 1118.3,1199.6 1121.1,1200.8 1123.9,1202.1 1126.6,1203.3 1129.4,1204.5 1132.2,1205.7 1135.0,1206.9 1137.7,1208.1 1140.5,1209.2 1143.3,1210.4 1146.1,1211.6 1148.9,1212.8 1151.7,1213.9 1154.5,1215.1 1157.3,1216.2 1160.1,1217.3 1162.9,1218.4 1165.7,1219.5 1168.6,1220.6 1171.4,1221.6 1174.2,1222.7 1177.1,1223.7 1179.9,1224.7 1182.8,1225.7 1185.6,1226.7 1188.5,1227.6 1191.4,1228.5 1194.3,1229.4 1197.2,1230.3 1200.1,1231.2 1203.0,1232.0 1211.0,1228.5 1219.0,1233.5 1221.9,1234.4 1224.8,1235.3 1227.7,1236.3 1230.5,1237.2 1233.4,1238.1 1236.3,1239.1 1239.2,1240.0 1242.1,1240.9 1245.0,1241.9 1247.9,1242.8 1250.8,1243.7 1253.6,1244.6 1256.5,1245.5 1259.4,1246.4 1262.3,1247.3 1265.2,1248.2 1268.1,1249.1 1271.0,1250.0 1274.0,1250.8 1276.9,1251.7 1279.8,1252.5 1282.7,1253.3 1285.6,1254.2 1288.5,1254.9 1291.5,1255.7 1294.4,1256.5 1297.3,1257.2 1300.3,1258.0 1303.2,1258.7 1306.2,1259.4 1309.1,1260.0 1312.1,1260.7 1315.1,1261.3 1318.0,1261.9 1321.0,1262.5 1324.0,1263.0 1327.0,1263.5 1330.0,1264.0 1333.0,1264.5 1339.2,1258.9 1346.0,1262.5 1347.1,1262.8 1348.1,1263.1 1349.1,1263.4 1350.2,1263.6 1351.2,1263.9 1352.3,1264.2 1353.4,1264.5 1354.6,1264.7 1356.1,1265.0 1357.7,1265.2 1359.4,1265.4 1361.1,1265.7 1362.8,1265.9 1364.6,1266.1 1366.3,1266.3 1368.0,1266.5 1375.6,1259.8 1382.0,1261.0 1384.5,1262.9 1387.0,1264.6 1389.5,1266.2 1392.2,1267.8 1394.8,1269.2 1397.5,1270.6 1400.3,1271.9 1403.1,1273.1 1405.9,1274.2 1408.8,1275.2 1411.6,1276.2 1414.6,1277.0 1417.5,1277.9 1420.5,1278.6 1423.5,1279.3 1426.5,1280.0 1429.5,1280.6 1432.6,1281.1 1435.6,1281.6 1438.7,1282.1 1441.7,1282.5 1444.8,1282.9 1447.8,1283.3 1450.9,1283.6 1453.9,1283.9 1457.0,1284.2 1460.0,1284.5 1465.0,1280.5 1470.0,1281.3 1472.2,1281.5 1474.4,1281.7 1476.6,1282.0 1478.7,1282.2 1480.9,1282.4 1483.1,1282.6 1485.2,1282.9 1487.3,1283.2 1489.2,1283.5 1491.2,1283.9 1493.1,1284.3 1495.1,1284.7 1496.9,1285.1 1498.7,1285.5 1500.4,1285.8 1501.9,1286.1 1502.8,1286.2 1503.6,1286.4 1504.4,1286.5 1505.1,1286.6 1505.8,1286.7 1506.5,1286.8 1507.3,1286.9 1508.0,1287.0 1511.2,1283.5 1516.0,1288.0 1528.5,1288.6"/>
<line stroke="#00f" x1="662.6" y1="807.3" x2="666.7" y2="807.3"/>
<line stroke="#00f" x1="729" y1="910" x2="734" y2="910"/>
<line stroke="#00f" x1="795" y1="986" x2="800.7" y2="986"/>
</g>
<g font-family="'Liberation Serif', 'Times New Roman', serif" font-size="46" fill="#000" filter="url(#k)">
<text x="164.8" y="1365.5" text-anchor="end">0</text>
<text x="163.0" y="1147.0" text-anchor="end">5</text>
<text x="164.5" y="927.6" text-anchor="end">10</text>
<text x="163.0" y="708.2" text-anchor="end">15</text>
<text x="164.2" y="488.8" text-anchor="end">20</text>
<text x="162.5" y="269.4" text-anchor="end">25</text>
<text x="164.2" y="50.0" text-anchor="end">30</text>
<text x="205.0" y="1421.5" text-anchor="middle">0</text>
<text x="506.1" y="1421.5" text-anchor="middle">10</text>
<text x="807.1" y="1421.5" text-anchor="middle">20</text>
<text x="1108.2" y="1421.5" text-anchor="middle">30</text>
<text x="1409.3" y="1421.5" text-anchor="middle">40</text>
<text x="1710.3" y="1421.5" text-anchor="middle">50</text>
<text x="2011.4" y="1421.5" text-anchor="middle">60</text>
<text transform="translate(54.5,714.6) rotate(-90)" text-anchor="middle" letter-spacing="0.56">excess pore pressure (kPa)</text>
<text x="1107" y="1510.9" text-anchor="middle" letter-spacing="0.55">t<tspan font-size="31" dy="-15.3">0.5</tspan><tspan dy="15.3">(s</tspan><tspan font-size="31" dy="-15.3">0.5</tspan><tspan dy="15.3">)</tspan></text>
</g>
<path d="M1441 369h347v214h-347zM1447 374v204h336v-204z" fill="#000" fill-rule="evenodd" shape-rendering="crispEdges"/>
<g stroke-width="10.4" stroke-linecap="round" shape-rendering="crispEdges"><line x1="1471.1" y1="424" x2="1584.5" y2="424" stroke="#f00"/><line x1="1471.1" y1="527.9" x2="1584.5" y2="527.9" stroke="#00f"/></g>
<g font-family="'Liberation Serif', 'Times New Roman', serif" font-size="46" fill="#000" filter="url(#k)"><text x="1596.1" y="438.4" letter-spacing="0.9">20 mm/s</text><text x="1596.1" y="543.2" letter-spacing="0.9">10 mm/s</text></g>
</svg>
</body></html>
